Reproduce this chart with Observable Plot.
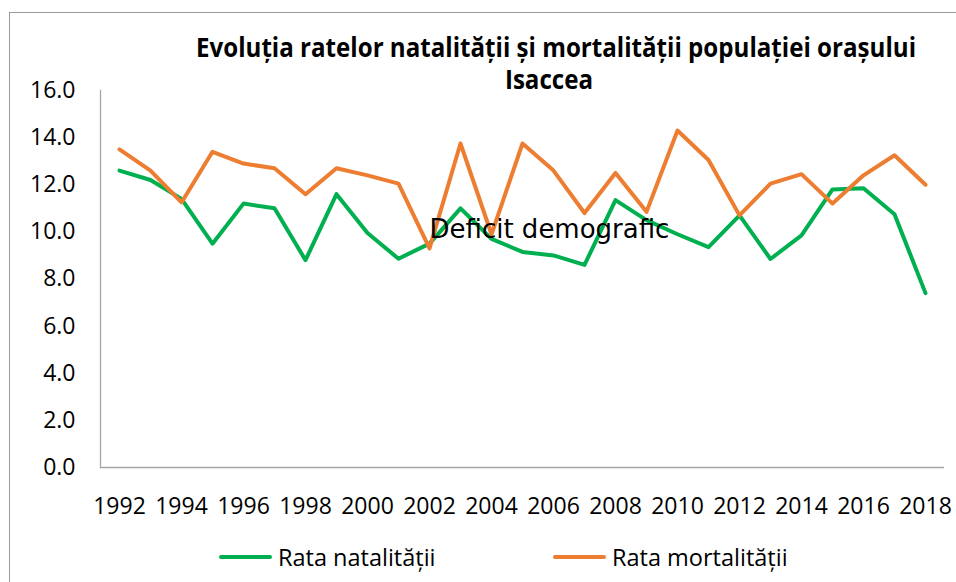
<!DOCTYPE html>
<html>
<head>
<meta charset="utf-8">
<script src="https://cdn.jsdelivr.net/npm/d3@7"></script>
<script src="https://cdn.jsdelivr.net/npm/@observablehq/plot@0.6"></script>
<style>
  body { margin: 0; background: #fff; }
  #wrap { position: relative; width: 956px; height: 582px; background: #fff; overflow: hidden; font-family: "Open Sans", sans-serif; }
  #border { position: absolute; left: 9px; top: 12px; right: -10px; bottom: -10px; border-left: 1.5px solid #9a9a9a; border-top: 1.5px solid #9a9a9a; }
  #chart { position: absolute; left: 0; top: 0; }
  #chart g[aria-label*="tick label"] text { font-size: 23px !important; font-family: "Open Sans", sans-serif !important; }
  #title { position: absolute; left: 0; top: 0; }
  .leg { position: absolute; font-size: 23.5px; line-height: 30px; color: #000; white-space: nowrap; }
  .sw { position: absolute; height: 4px; border-radius: 2px; }
</style>
</head>
<body>
<div id="wrap">
  <div id="border"></div>
  <div id="chart"></div>
  <svg id="title" width="956" height="100" xmlns="http://www.w3.org/2000/svg"></svg>
  <div class="sw" id="sw0" style="left:219px; top:555px; width:53px;"></div>
  <div class="leg" id="lg0" style="left:278px; top:542px;"></div>
  <div class="sw" id="sw1" style="left:553px; top:555px; width:53px;"></div>
  <div class="leg" id="lg1" style="left:612px; top:542px;"></div>
</div>
<script>
// ---- data ----
const titleLines = ["Evoluția ratelor natalității și mortalității populației orașului", "Isaccea"];
const seriesNames = ["Rata natalității", "Rata mortalității"];
const seriesColors = ["#00B050", "#ED7D31"];
const years = [1992, 1993, 1994, 1995, 1996, 1997, 1998, 1999, 2000, 2001, 2002, 2003, 2004, 2005,
               2006, 2007, 2008, 2009, 2010, 2011, 2012, 2013, 2014, 2015, 2016, 2017, 2018];
const natalitate = [12.6, 12.2, 11.4, 9.5, 11.2, 11.0, 8.8, 11.6, 9.95, 8.86, 9.5, 11.0, 9.7, 9.15,
                    9.0, 8.6, 11.35, 10.5, 9.9, 9.35, 10.7, 8.85, 9.85, 11.8, 11.85, 10.75, 7.4];
const mortalitate = [13.5, 12.6, 11.25, 13.4, 12.9, 12.7, 11.6, 12.7, 12.4, 12.05, 9.3, 13.75, 9.9, 13.75,
                     12.6, 10.8, 12.5, 10.85, 14.3, 13.05, 10.7, 12.05, 12.45, 11.2, 12.4, 13.25, 12.0];
const xTickLabels = [1992, 1994, 1996, 1998, 2000, 2002, 2004, 2006, 2008, 2010, 2012, 2014, 2016, 2018];
const yTickValues = [0, 2, 4, 6, 8, 10, 12, 14, 16];
const annotation = [{year: 2002, value: 9.72, label: "Deficit demografic"}];

// ---- table ----
const rows = years.flatMap((yr, i) => [
  {year: yr, value: natalitate[i], series: seriesNames[0]},
  {year: yr, value: mortalitate[i], series: seriesNames[1]}
]);

const axisGray = "#a6a6a6";

const chart = Plot.plot({
  width: 956,
  height: 582,
  marginLeft: 100,
  marginRight: 12,
  marginTop: 90,
  marginBottom: 115,
  style: {fontFamily: "Open Sans, sans-serif", fontSize: "23px", color: "#000", background: "transparent", overflow: "visible"},
  x: {type: "point", domain: years, padding: 0.5},
  y: {domain: [0, 16]},
  color: {domain: seriesNames, range: seriesColors},
  marks: [
    Plot.frame({anchor: "left", stroke: axisGray, strokeWidth: 1.3}),
    Plot.ruleY([0], {stroke: axisGray, strokeWidth: 1.3}),
    Plot.axisY({ticks: yTickValues, tickFormat: d3.format(".1f"), tickSize: 0, tickPadding: 25, label: null,
                fill: "#000", fontSize: 23}),
    Plot.axisX({ticks: xTickLabels, tickFormat: d => String(d), tickSize: 0, tickPadding: 30, label: null,
                fill: "#000", fontSize: 23}),
    Plot.line(rows, {x: "year", y: "value", z: "series", stroke: "series", strokeWidth: 4,
                     strokeLinejoin: "round", strokeLinecap: "round"}),
    Plot.text(annotation, {x: "year", y: "value", text: "label", textAnchor: "start", lineAnchor: "bottom",
                           fontFamily: "DejaVu Sans", fontSize: 26, fill: "#000"})
  ]
});
document.getElementById("chart").appendChild(chart);

// ---- title ----
const tsvg = d3.select("#title");
const t1 = tsvg.append("text").attr("x", 556).attr("y", 57).attr("text-anchor", "middle")
  .attr("font-family", "Open Sans").attr("font-weight", "bold").attr("font-size", 26.5).attr("fill", "#000")
  .text(titleLines[0]);
const t2 = tsvg.append("text").attr("x", 549).attr("y", 89).attr("text-anchor", "middle")
  .attr("font-family", "Open Sans").attr("font-weight", "bold").attr("font-size", 26.5).attr("fill", "#000")
  .text(titleLines[1]);
const natural = t1.node().getComputedTextLength();
const ratio = 720 / natural;
t1.attr("textLength", 720).attr("lengthAdjust", "spacingAndGlyphs");
t2.attr("textLength", t2.node().getComputedTextLength() * ratio).attr("lengthAdjust", "spacingAndGlyphs");

// ---- legend ----
seriesNames.forEach((name, i) => {
  document.getElementById("sw" + i).style.background = seriesColors[i];
  document.getElementById("lg" + i).textContent = name;
});
</script>
</body>
</html>
